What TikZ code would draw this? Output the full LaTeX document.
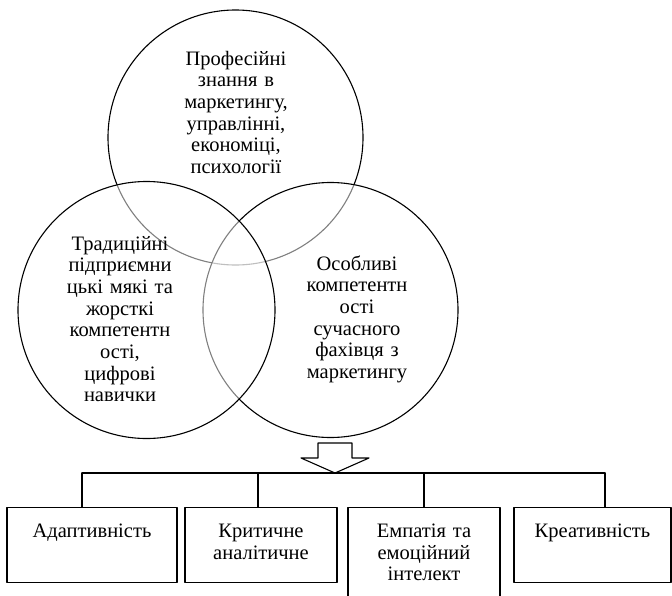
\documentclass[tikz,border=0pt]{standalone}
\usepackage{fontspec}
\setmainfont{Liberation Serif}
\usepackage{xcolor}
\usetikzlibrary{positioning}

\tikzset{
  ring/.style={draw=black,line width=1.1pt,fill=white,fill opacity=0.5},
  ringtext/.style={anchor=base,align=center,inner sep=0pt,text width=#1},
  compbox/.style={draw,line width=1.1pt,anchor=north,align=center,
    inner xsep=0pt,inner ysep=0pt,text height=30pt,text depth=45pt,text width=#1},
  link/.style={line width=1.1pt}
}

\begin{document}
\begin{tikzpicture}[line cap=round,line join=round,x=1pt,y=-1pt,
  font=\fontsize{20.5}{21.7}\selectfont]
\useasboundingbox (0,0) rectangle (672,595);
\clip (0,0) rectangle (672,595);
% three circles, the later ones veil the earlier lines
\draw[ring] (235.5,137.5) circle (127.5);
\draw[ring] (330.5,310) circle (127.5);
\draw[ring] (146.5,310) circle (128.5);
\node[ringtext=140pt] (prof) at (236,65) {Професійні\\ знання в\\ маркетингу,\\ управлінні,\\ економіці,\\ психології};
\node[ringtext=140pt] (trad) at (120,250) {Традиційні\\ підприємни\\ цькі мякі та\\ жорсткі\\ компетентн\\ ості,\\ цифрові\\ навички};
\node[ringtext=140pt] (osob) at (357,270) {Особливі\\ компетентн\\ ості\\ сучасного\\ фахівця з\\ маркетингу};
% block arrow down to the bus
\coordinate (tip) at (335,473);
\draw[link,fill=white] (318,443) -- (352,443) -- (352,458) -- (369,458) -- (tip)
  -- (301,458) -- (318,458) -- cycle;
% boxes
\node[compbox=170pt] (adapt) at (92,507) {Адаптивність};
\node[compbox=152pt] (krit) at (261,507) {Критичне\\ аналітичне};
\node[compbox=152pt,text depth=70pt] (emp) at (424,507) {Емпатія та\\ емоційний\\ інтелект};
\node[compbox=157pt] (kreat) at (592.5,507) {Креативність};
% bus
\coordinate (bus1) at (82,473);
\coordinate (bus2) at (258,473);
\coordinate (bus3) at (424,473);
\coordinate (bus4) at (605,473);
\draw[link] (bus1) -- (bus4);
\foreach \b/\n in {bus1/adapt,bus2/krit,bus3/emp,bus4/kreat}
  \draw[link] (\b) -- (\b |- \n.north);
\end{tikzpicture}
\end{document}
